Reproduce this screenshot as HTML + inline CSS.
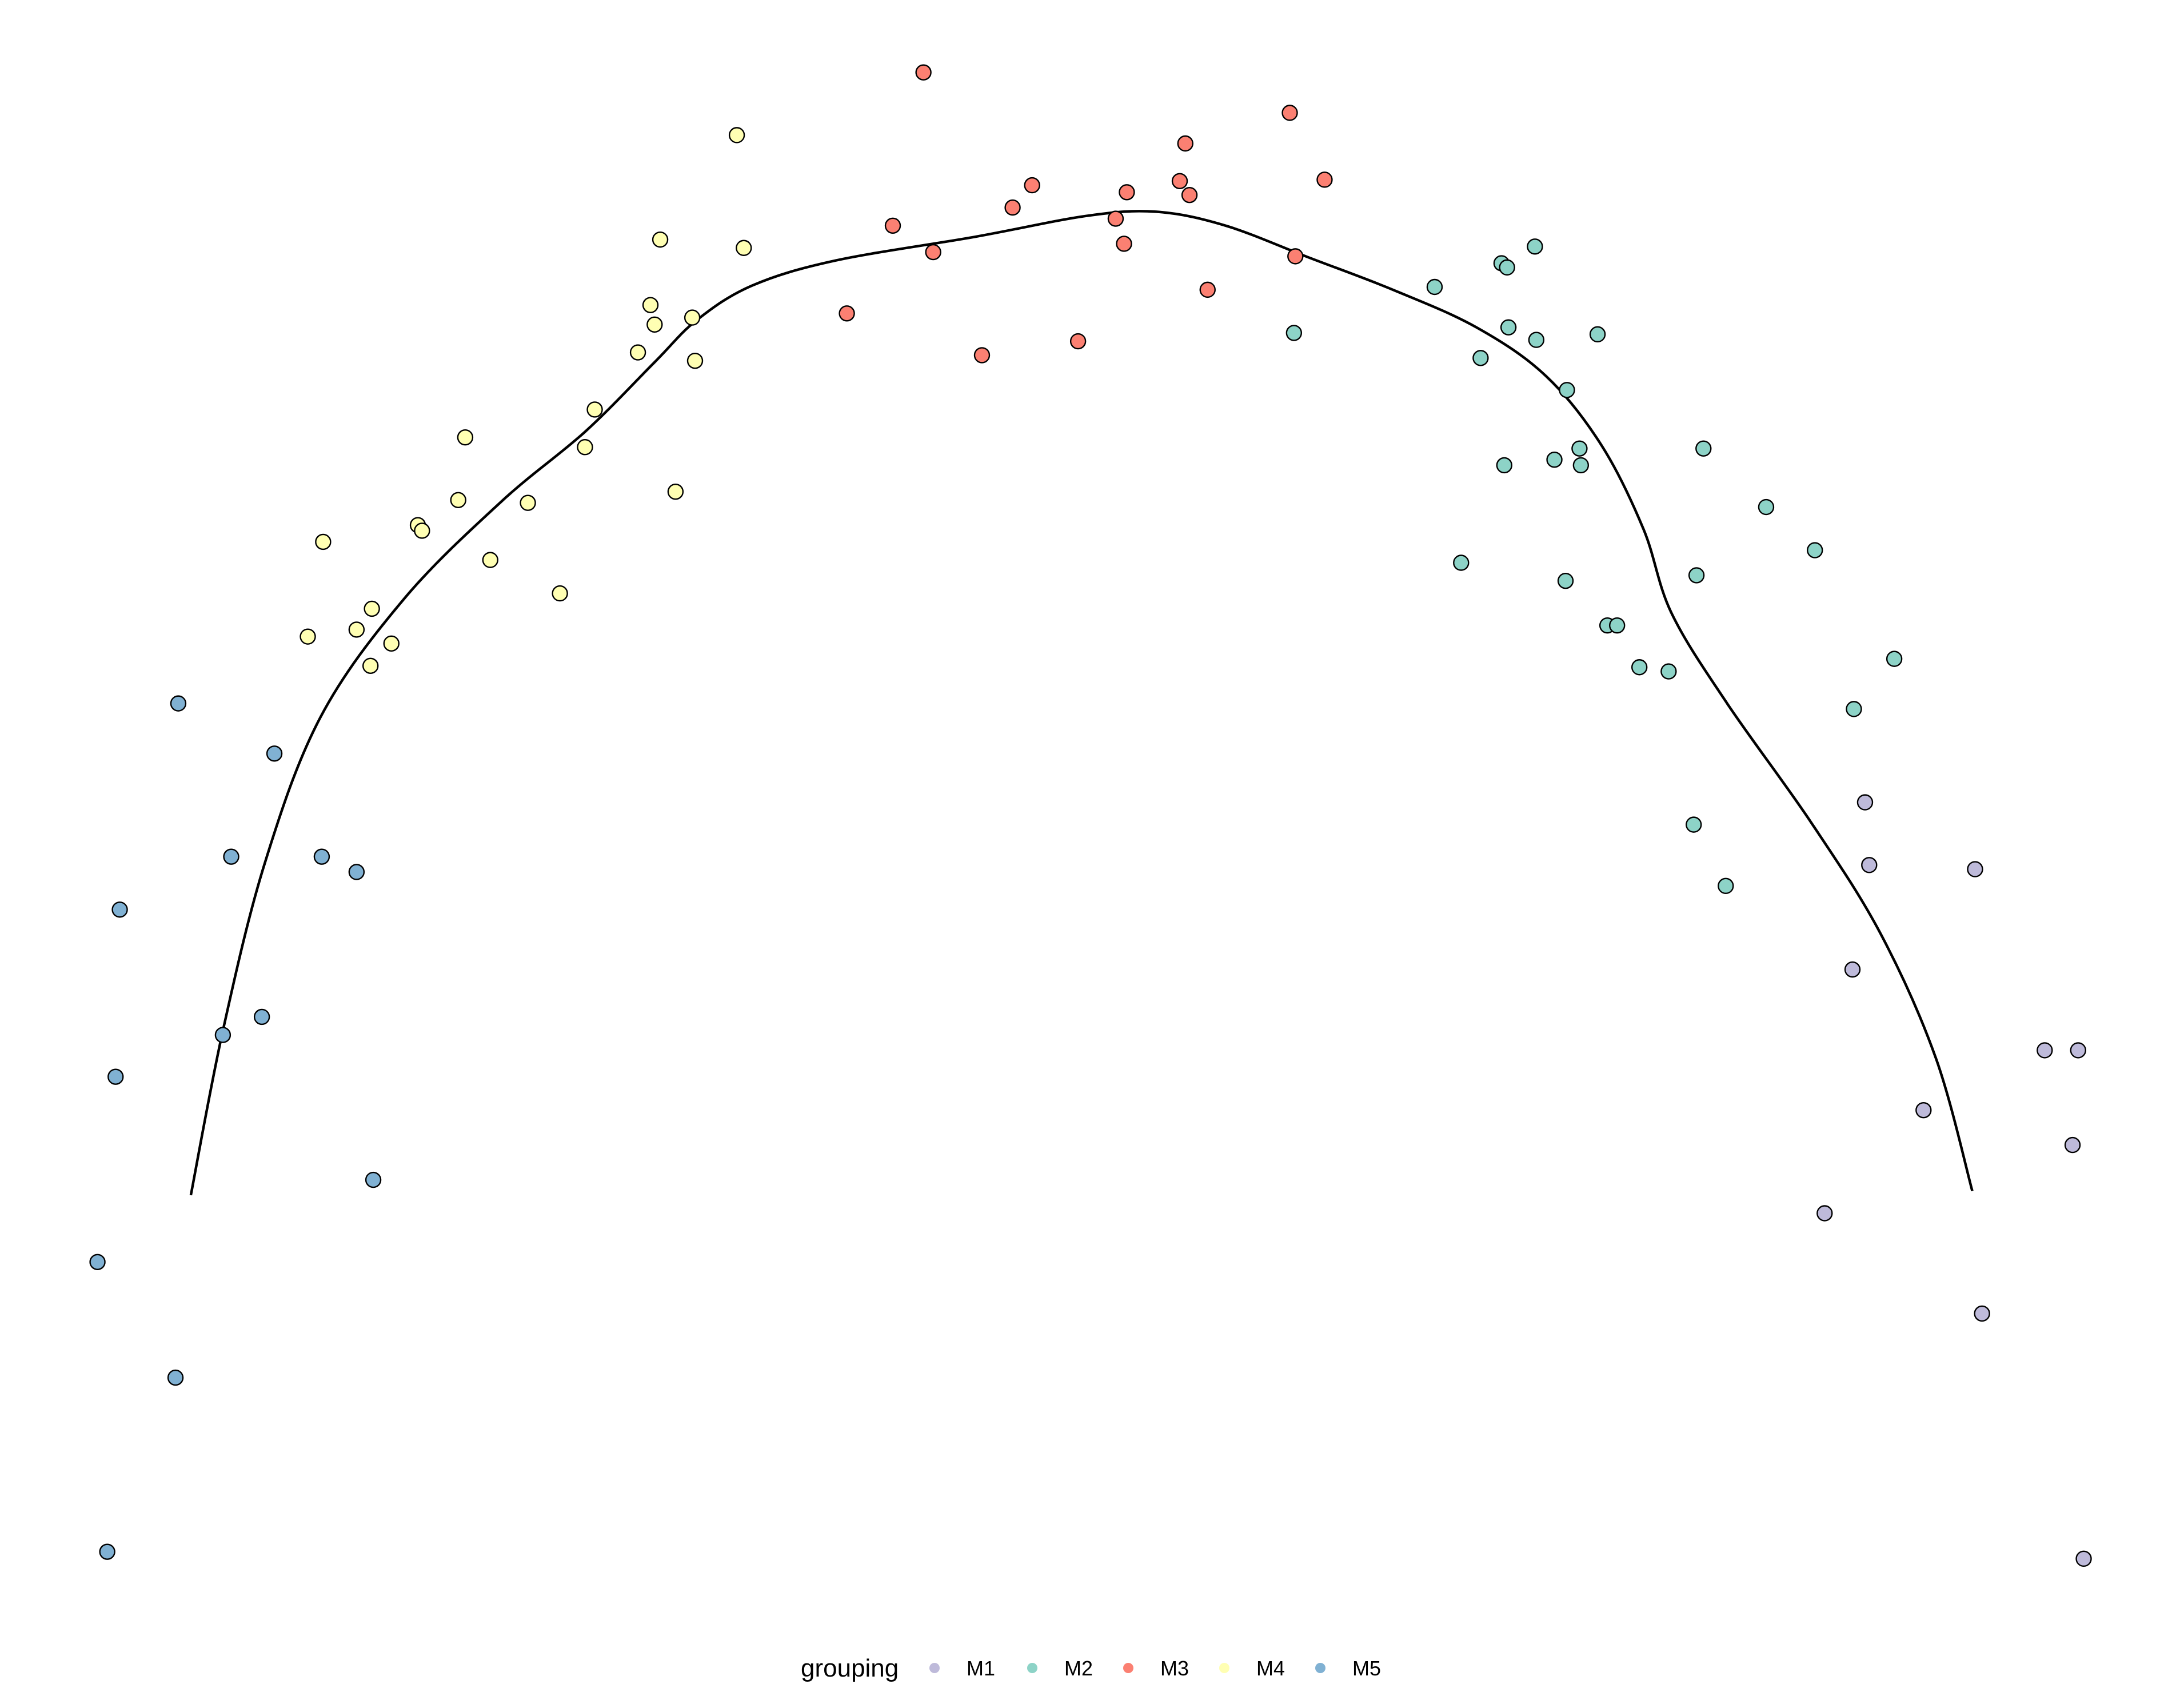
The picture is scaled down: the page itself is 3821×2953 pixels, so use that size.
<!DOCTYPE html>
<html><head><meta charset="utf-8"><style>
html,body{margin:0;padding:0;background:#fff;}
svg{display:block;}
text{font-family:"Liberation Sans",Arial,sans-serif;}
</style></head><body>
<svg id="chart" width="3821" height="2953" viewBox="0 0 3821 2953">
<g id="curve-layer"></g>
<g id="points"></g>
<g id="legend">
<text x="1401" y="2933" font-size="44">grouping</text>
</g>
</svg>
<script>
const groups = ["M1","M2","M3","M4","M5"];
const colors = ["#BEBADA","#8DD3C7","#FB8072","#FFFFB3","#80B1D3"];
const m1x = [1339,1342,1418,1330,1468,1492,1381,1488,1310,1423,1496];
const m1y = [576,621,624,696,754,754,797,822,871,943,1119];
const m2x = [1102,1078,1082,1030,929,1083,1103,1147,1063,1125,1223,1134,1116,1080,1135,1268,1303,1049,1218,1124,1154,1161,1177,1198,1360,1331,1216,1239];
const m2y = [177,189,192,206,239,235,244,240,257,280,322,322,330,334,334,364,395,404,413,417,449,449,479,482,473,509,592,636];
const m3x = [663,926,851,741,951,847,809,854,727,641,801,670,807,930,867,608,774,705];
const m3y = [52,81,103,133,129,130,138,140,149,162,157,181,175,184,208,225,245,255];
const m4x = [529,474,534,467,470,497,458,499,427,334,420,485,329,379,300,303,232,352,402,267,256,221,281,266];
const m4y = [97,172,178,219,233,228,253,259,294,314,321,353,359,361,377,381,389,402,426,437,452,457,462,478];
const m5x = [128,197,166,231,256,86,160,188,83,268,70,126,77];
const m5y = [505,541,615,615,626,653,743,730,773,847,906,989,1114];
const curveX = [137,160,190,230,290,360,420,470,500,540,600,700,780,830,880,940,1000,1060,1110,1150,1180,1200,1240,1300,1350,1390,1416];
const curveY = [858,740,620,515,430,360,310,260,230,205,187,170,155,152,162,185,208,235,270,320,380,440,505,590,670,760,855];

const K = 3821/1568;
function sx(v){return v*K;}
function sy(v){return v*K;}
const NS="http://www.w3.org/2000/svg";

// smooth curve via Catmull-Rom
const P=curveX.map((x,i)=>[sx(x),sy(curveY[i])]);
let d="M"+P[0][0].toFixed(1)+","+P[0][1].toFixed(1);
for(let i=0;i<P.length-1;i++){
  const p0=P[Math.max(0,i-1)],p1=P[i],p2=P[i+1],p3=P[Math.min(P.length-1,i+2)];
  const c1=[p1[0]+(p2[0]-p0[0])/6,p1[1]+(p2[1]-p0[1])/6];
  const c2=[p2[0]-(p3[0]-p1[0])/6,p2[1]-(p3[1]-p1[1])/6];
  d+="C"+c1.map(v=>v.toFixed(1)).join(",")+" "+c2.map(v=>v.toFixed(1)).join(",")+" "+p2.map(v=>v.toFixed(1)).join(",");
}
const path=document.createElementNS(NS,"path");
path.setAttribute("d",d);path.setAttribute("fill","none");path.setAttribute("stroke","#000");path.setAttribute("stroke-width","4.5");


document.getElementById("curve-layer").appendChild(path);

const xs=[m1x,m2x,m3x,m4x,m5x], ys=[m1y,m2y,m3y,m4y,m5y];
const pg=document.getElementById("points");
for(let g=0;g<5;g++){
  for(let i=0;i<xs[g].length;i++){
    const c=document.createElementNS(NS,"circle");
    c.setAttribute("cx",sx(xs[g][i]));c.setAttribute("cy",sy(ys[g][i]));c.setAttribute("r","13");
    c.setAttribute("fill",colors[g]);c.setAttribute("stroke","#000");c.setAttribute("stroke-width","2.4");
    
    
    pg.appendChild(c);
  }
}
const lg=document.getElementById("legend");
const dotX=[1635,1806,1974,2142,2310];
for(let g=0;g<5;g++){
  const c=document.createElementNS(NS,"circle");
  c.setAttribute("cx",dotX[g]);c.setAttribute("cy","2918");c.setAttribute("r","9");c.setAttribute("fill",colors[g]);
  
  
  lg.appendChild(c);
  const t=document.createElementNS(NS,"text");
  t.setAttribute("x",dotX[g]+56);t.setAttribute("y","2931");t.setAttribute("font-size","36");
  t.textContent=groups[g];
  
  
  lg.appendChild(t);
}
</script>
</body></html>
